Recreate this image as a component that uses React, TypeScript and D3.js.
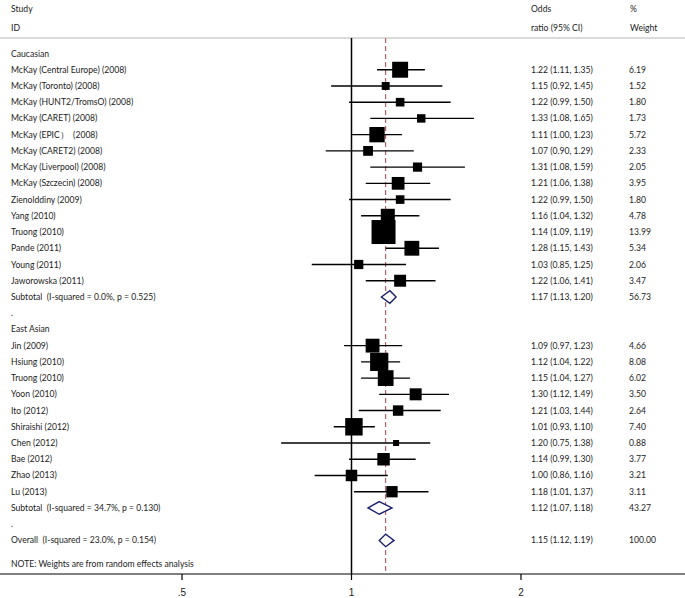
import React from "react";
import * as d3 from "d3";

const W = 685;
const H = 598;

const cauStudies = [
  "McKay (Central Europe) (2008)",
  "McKay (Toronto) (2008)",
  "McKay (HUNT2/TromsO) (2008)",
  "McKay (CARET) (2008)",
  "McKay (EPIC）  (2008)",
  "McKay (CARET2) (2008)",
  "McKay (Liverpool) (2008)",
  "McKay (Szczecin) (2008)",
  "Zienolddiny (2009)",
  "Yang (2010)",
  "Truong (2010)",
  "Pande (2011)",
  "Young (2011)",
  "Jaworowska (2011)",
];
const cauOR = [1.22, 1.15, 1.22, 1.33, 1.11, 1.07, 1.31, 1.21, 1.22, 1.16, 1.14, 1.28, 1.03, 1.22];
const cauLo = [1.11, 0.92, 0.99, 1.08, 1.0, 0.9, 1.08, 1.06, 0.99, 1.04, 1.09, 1.15, 0.85, 1.06];
const cauHi = [1.35, 1.45, 1.5, 1.65, 1.23, 1.29, 1.59, 1.38, 1.5, 1.32, 1.19, 1.43, 1.25, 1.41];
const cauW = [6.19, 1.52, 1.8, 1.73, 5.72, 2.33, 2.05, 3.95, 1.8, 4.78, 13.99, 5.34, 2.06, 3.47];

const easStudies = [
  "Jin (2009)",
  "Hsiung (2010)",
  "Truong (2010)",
  "Yoon (2010)",
  "Ito (2012)",
  "Shiraishi (2012)",
  "Chen (2012)",
  "Bae (2012)",
  "Zhao (2013)",
  "Lu (2013)",
];
const easOR = [1.09, 1.12, 1.15, 1.3, 1.21, 1.01, 1.2, 1.14, 1.0, 1.18];
const easLo = [0.97, 1.04, 1.04, 1.12, 1.03, 0.93, 0.75, 0.99, 0.86, 1.01];
const easHi = [1.23, 1.22, 1.27, 1.49, 1.44, 1.1, 1.38, 1.3, 1.16, 1.37];
const easW = [4.66, 8.08, 6.02, 3.5, 2.64, 7.4, 0.88, 3.77, 3.21, 3.11];

const groupNames = ["Caucasian", "East Asian"];
const subtotalLabels = [
  "Subtotal  (I-squared = 0.0%, p = 0.525)",
  "Subtotal  (I-squared = 34.7%, p = 0.130)",
];
const subtotalOR = [1.17, 1.12];
const subtotalLo = [1.13, 1.07];
const subtotalHi = [1.2, 1.18];
const subtotalW = [56.73, 43.27];

const overallLabel = "Overall  (I-squared = 23.0%, p = 0.154)";
const overallOR = 1.15;
const overallLo = 1.12;
const overallHi = 1.19;
const overallW = 100.0;

const noteText = "NOTE: Weights are from random effects analysis";
const tickValues = [0.5, 1, 2];
const tickLabels = [".5", "1", "2"];

type Row =
  | { kind: "group"; label: string }
  | { kind: "study"; label: string; or: number; lo: number; hi: number; w: number }
  | { kind: "diamond"; label: string; or: number; lo: number; hi: number; w: number }
  | { kind: "blank"; label: string };

const rows: Row[] = [];
[
  [cauStudies, cauOR, cauLo, cauHi, cauW],
  [easStudies, easOR, easLo, easHi, easW],
].forEach((g: any, gi) => {
  rows.push({ kind: "group", label: groupNames[gi] });
  (g[0] as string[]).forEach((s, i) =>
    rows.push({ kind: "study", label: s, or: g[1][i], lo: g[2][i], hi: g[3][i], w: g[4][i] })
  );
  rows.push({
    kind: "diamond",
    label: subtotalLabels[gi],
    or: subtotalOR[gi],
    lo: subtotalLo[gi],
    hi: subtotalHi[gi],
    w: subtotalW[gi],
  });
  rows.push({ kind: "blank", label: "." });
});
rows.push({ kind: "diamond", label: overallLabel, or: overallOR, lo: overallLo, hi: overallHi, w: overallW });

const FONT = "Lato, 'Open Sans', sans-serif";
const FS = 8.6;
const TXT = "#222";

export default function App() {
  const x = d3.scaleLog().domain([0.5, 2]).range([182, 521]);
  const y = d3.scaleLinear().domain([0, 1]).range([53.5, 69.73]);
  const boxSide = d3.scaleSqrt().domain([0, 14]).range([0, 24]);
  const fmt = d3.format(".2f");

  const topY = 38;
  const axisY = 574;
  const noteY = y(rows.length - 1) + 24;
  const LX = 11;

  return (
    <svg
      width={W}
      height={H}
      style={{ position: "absolute", left: 0, top: 0, background: "#fff" }}
      fontFamily={FONT}
    >
      <rect x={0} y={0} width={W} height={H} fill="#fff" />
      {/* header */}
      <g fontSize={FS} fill={TXT}>
        <text x={LX} y={9} dy="0.35em">Study</text>
        <text x={LX} y={28} dy="0.35em">ID</text>
        <text x={531} y={9} dy="0.35em">Odds</text>
        <text x={531} y={28} dy="0.35em">ratio (95% CI)</text>
        <text x={630} y={9} dy="0.35em">%</text>
        <text x={630} y={28} dy="0.35em">Weight</text>
      </g>
      <line x1={0} x2={W} y1={topY} y2={topY} stroke="#b5b5b5" strokeWidth={1} />

      {/* reference lines */}
      <line x1={x(1)} x2={x(1)} y1={topY} y2={axisY} stroke="#000" strokeWidth={1.5} />
      <line
        x1={x(overallOR)}
        x2={x(overallOR)}
        y1={topY}
        y2={axisY}
        stroke="#a8404c"
        strokeWidth={1}
        strokeDasharray="5,3"
      />

      {/* rows */}
      {rows.map((r, i) => {
        const cy = y(i);
        const els: React.ReactNode[] = [];
        els.push(
          <text
            key="l"
            x={LX}
            y={cy}
            dy="0.35em"
            fontSize={FS}
            fill={TXT}
            style={{ whiteSpace: "pre" }}
          >
            {r.label}
          </text>
        );
        if (r.kind === "study") {
          const s = boxSide(r.w);
          els.push(
            <line key="ci" x1={x(r.lo)} x2={x(r.hi)} y1={cy} y2={cy} stroke="#000" strokeWidth={1.4} />
          );
          els.push(<rect key="b" x={x(r.or) - s / 2} y={cy - s / 2} width={s} height={s} fill="#000" />);
        }
        if (r.kind === "diamond") {
          const hh = 6.3;
          const p = `M${x(r.lo)},${cy} L${x(r.or)},${cy - hh} L${x(r.hi)},${cy} L${x(r.or)},${cy + hh} Z`;
          els.push(<path key="d" d={p} fill="#fff" stroke="#1a1f6b" strokeWidth={1.4} />);
        }
        if (r.kind === "study" || r.kind === "diamond") {
          els.push(
            <text key="c" x={531} y={cy} dy="0.35em" fontSize={FS} fill={TXT}>
              {`${fmt(r.or)} (${fmt(r.lo)}, ${fmt(r.hi)})`}
            </text>
          );
          els.push(
            <text key="w" x={629} y={cy} dy="0.35em" fontSize={FS} fill={TXT}>
              {fmt(r.w)}
            </text>
          );
        }
        return <g key={i}>{els}</g>;
      })}

      <text x={LX} y={noteY} dy="0.35em" fontSize={FS} fill={TXT}>
        {noteText}
      </text>

      {/* axis */}
      <line x1={0} x2={W} y1={axisY} y2={axisY} stroke="#000" strokeWidth={1} />
      {tickValues.map((t, i) => (
        <g key={t}>
          <line x1={x(t)} x2={x(t)} y1={axisY} y2={axisY + 6} stroke="#000" strokeWidth={1.2} />
          <text
            x={x(t)}
            y={axisY + 18}
            dy="0.35em"
            textAnchor="middle"
            fontSize={10}
            fontFamily="Arial, 'Liberation Sans', sans-serif"
            fill={TXT}
          >
            {tickLabels[i]}
          </text>
        </g>
      ))}
    </svg>
  );
}
